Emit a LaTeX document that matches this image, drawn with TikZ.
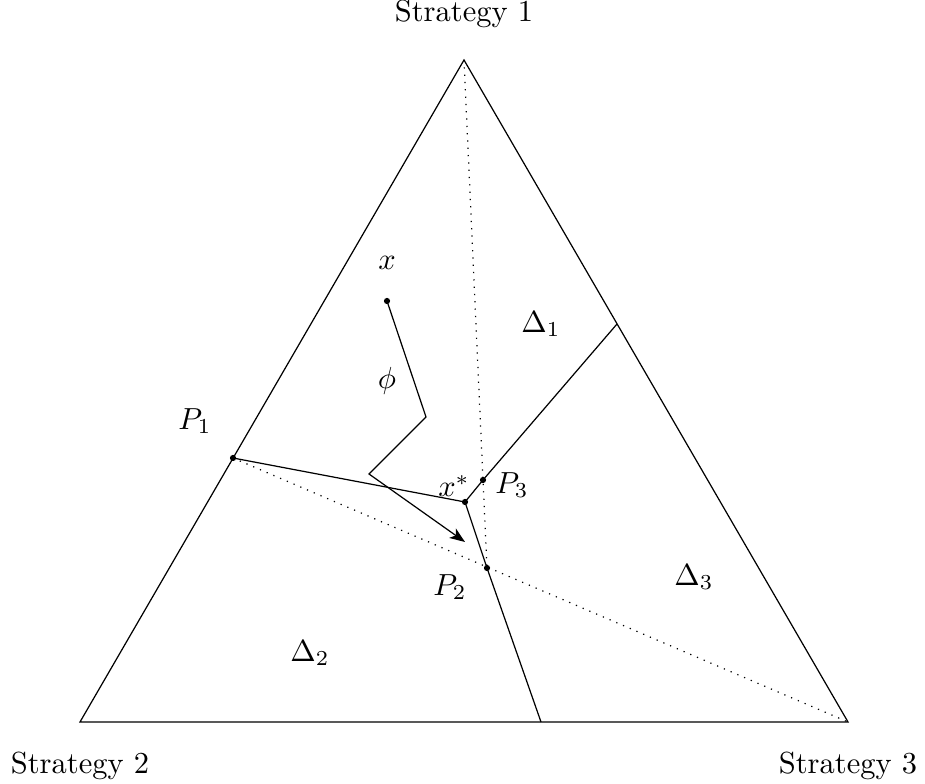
\documentclass[tikz,border=0pt]{standalone}
\usetikzlibrary{arrows.meta}
\begin{document}
\begin{tikzpicture}[x=0.328pt,y=-0.328pt,
  edge/.style={line width=0.4pt},
  dotline/.style={line width=0.4pt,dotted},
  lbl/.style={inner sep=0pt}]
\useasboundingbox (0,0) rectangle (925,784);
% vertices
\coordinate (A) at (464,60);
\coordinate (B) at (80,722);
\coordinate (C) at (848,722);
% points
\coordinate (X) at (387,301);
\coordinate (K1) at (426,417);
\coordinate (K2) at (369,474);
\coordinate (AT) at (465,542);
\coordinate (XS) at (465,502);
\coordinate (P1) at (233,458);
\coordinate (P2) at (487,568);
\coordinate (P3) at (483,480);
\coordinate (R) at (617,324);
\coordinate (D) at (541,722);
% triangle
\draw[edge] (A) -- (B) -- (C) -- cycle;
% dotted lines
\draw[dotline] (A) -- (P2);
\draw[dotline] (P1) -- (C);
% boundaries
\draw[edge] (P1) -- (XS);
\draw[edge] (XS) -- (P3) -- (R);
\draw[edge] (XS) -- (P2) -- (D);
% trajectory
\draw[edge,-{Stealth[length=5pt,width=3.8pt,inset=1.3pt]}] (X) -- (K1) -- (K2) -- (AT);
% dots
\foreach \p in {X,XS,P1,P2,P3} \fill (\p) circle (3.1);
% labels
\node[lbl] (s1) at (464,14) {Strategy 1};
\node[lbl] (s2) at (80,766) {Strategy 2};
\node[lbl] (s3) at (848,766) {Strategy 3};
\node[lbl] (lx) at (387,263) {$x$};
\node[lbl] (lphi) at (387,381) {$\phi$};
\node[lbl] (lxs) at (454,486) {$x^*$};
\node[lbl] (lp1) at (195,421) {$P_1$};
\node[lbl] (lp2) at (450,587) {$P_2$};
\node[lbl] (lp3) at (512,485) {$P_3$};
\node[lbl] (d1) at (541,324) {$\Delta_1$};
\node[lbl] (d2) at (310,653) {$\Delta_2$};
\node[lbl] (d3) at (694,577) {$\Delta_3$};
\end{tikzpicture}
\end{document}
